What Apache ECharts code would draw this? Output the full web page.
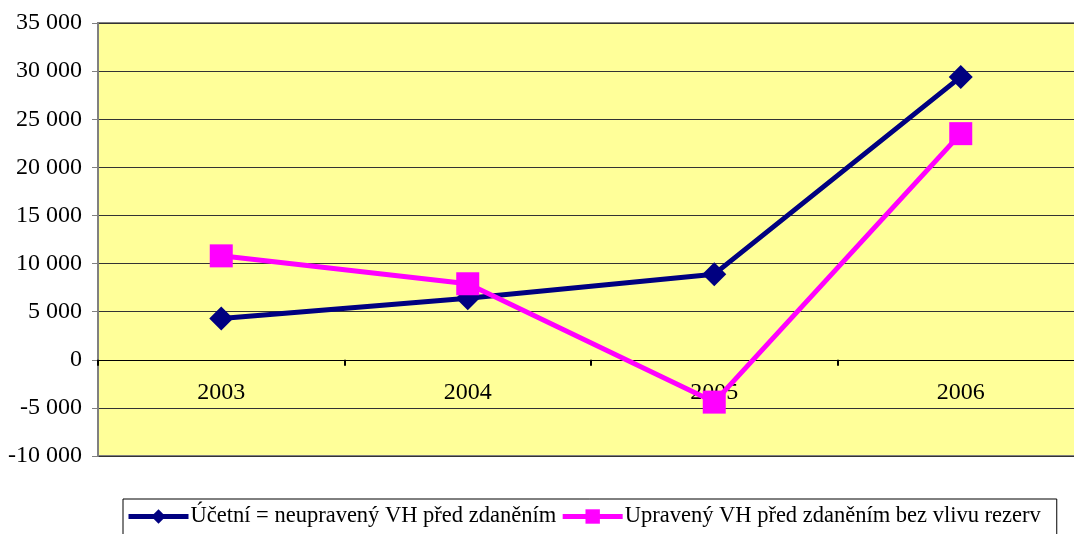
<!DOCTYPE html>
<html>
<head>
<meta charset="utf-8">
<script src="https://cdn.jsdelivr.net/npm/echarts@6/dist/echarts.min.js"></script>
<style>
  html, body { margin: 0; padding: 0; background: #ffffff; overflow: hidden; }
  #chart { width: 1084px; height: 534px; }
</style>
</head>
<body>
<div id="chart"></div>
<script>
// Years on the category axis
const years = ['2003', '2004', '2005', '2006'];

// Series names
const nameAccounting = 'Účetní = neupravený VH před zdaněním';
const nameAdjusted = 'Upravený VH před zdaněním bez vlivu rezerv';

// Profit before tax, per year
const accountingValues = [4300, 6400, 8900, 29400];
const adjustedValues = [10800, 7900, -4400, 23500];

// Value axis range
const yMin = -10000;
const yMax = 35000;
const yStep = 5000;

const font = 'Liberation Serif, Times New Roman, serif';

function fmtThousands(v) {
  const neg = v < 0;
  const s = String(Math.abs(v)).replace(/\B(?=(\d{3})+(?!\d))/g, ' ');
  return (neg ? '-' : '') + s;
}

const gridTop = 23;
const gridBottom = 78;
const chartHeight = 534;
const plotHeight = chartHeight - gridTop - gridBottom;
// distance from the plot bottom up to the zero line
const zeroLift = plotHeight * (0 - yMin) / (yMax - yMin);

const chart = echarts.init(document.getElementById('chart'), null, { renderer: 'canvas' });

chart.setOption({
  backgroundColor: '#ffffff',
  animation: false,
  textStyle: { fontFamily: font },
  grid: {
    left: 98,
    right: 0,
    top: gridTop,
    bottom: gridBottom,
    show: true,
    backgroundColor: '#FFFF99',
    borderColor: '#808080',
    borderWidth: 2
  },
  legend: {
    left: 123,
    top: 499,
    orient: 'horizontal',
    padding: [6, 16, 14, 3],
    itemGap: 4,
    itemWidth: 60,
    itemHeight: 18,
    borderColor: '#000000',
    borderWidth: 1,
    backgroundColor: '#ffffff',
    lineStyle: { width: 5 },
    textStyle: { fontFamily: font, fontSize: 22.5, color: '#000000', padding: [0, 0, 0, -3] },
    data: [nameAccounting, nameAdjusted]
  },
  xAxis: {
    type: 'category',
    data: years,
    boundaryGap: true,
    position: 'bottom',
    offset: -zeroLift,
    axisLine: { show: true, onZero: false, lineStyle: { color: '#000000', width: 1 } },
    axisTick: { show: true, length: 6, inside: false, lineStyle: { color: '#000000', width: 2 } },
    axisLabel: { fontFamily: font, fontSize: 24, color: '#000000', margin: 21 },
    splitLine: { show: false }
  },
  yAxis: {
    type: 'value',
    min: yMin,
    max: yMax,
    interval: yStep,
    axisLine: { show: true, lineStyle: { color: '#808080', width: 2 } },
    axisTick: { show: true, length: 6, lineStyle: { color: '#808080', width: 1 } },
    axisLabel: {
      fontFamily: font,
      fontSize: 24,
      color: '#000000',
      margin: 16,
      formatter: fmtThousands
    },
    splitLine: { show: true, lineStyle: { color: '#333333', width: 1 } }
  },
  series: [
    {
      name: nameAccounting,
      type: 'line',
      data: accountingValues,
      symbol: 'diamond',
      symbolSize: 24,
      color: '#000080',
      lineStyle: { color: '#000080', width: 5 },
      itemStyle: { color: '#000080' },
      z: 3
    },
    {
      name: nameAdjusted,
      type: 'line',
      data: adjustedValues,
      symbol: 'rect',
      symbolSize: 23,
      color: '#FF00FF',
      lineStyle: { color: '#FF00FF', width: 5 },
      itemStyle: { color: '#FF00FF' },
      z: 4
    }
  ]
});
</script>
</body>
</html>
